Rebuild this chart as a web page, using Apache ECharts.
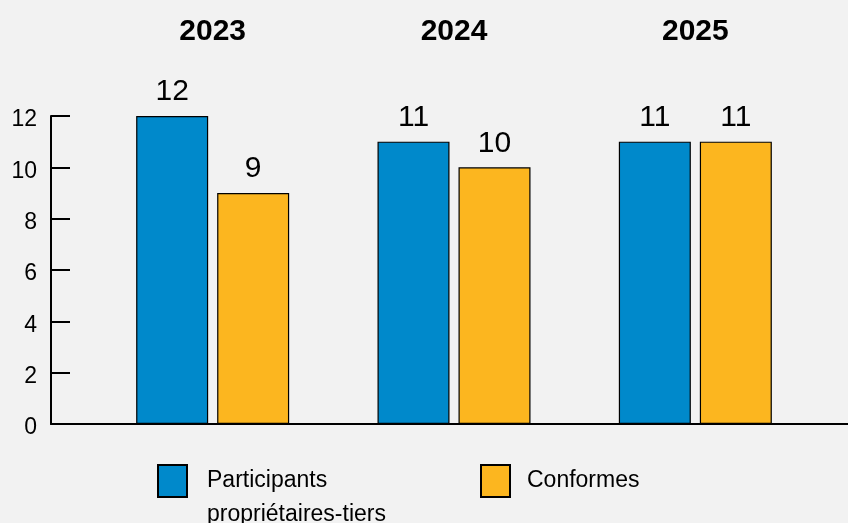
<!DOCTYPE html>
<html><head><meta charset="utf-8">
<script src="https://cdn.jsdelivr.net/npm/echarts@6/dist/echarts.min.js"></script>
<style>html,body{margin:0;padding:0;background:#F2F2F2;}#c{width:848px;height:523px;}</style>
</head><body><div id="c"></div>
<script>
const years = ['2023', '2024', '2025'];
const participants = [12, 11, 11];
const conformes = [9, 10, 11];
const yTicks = { min: 0, max: 12, interval: 2 };
const seriesNames = ['Participants propriétaires-tiers', 'Conformes'];

const FONT = '"Liberation Sans", Arial, sans-serif';
const chart = echarts.init(document.getElementById('c'), null, { renderer: 'canvas' });
const labelStyle = { show: true, position: 'top', distance: 9, color: '#000', fontSize: 30, fontFamily: FONT };
chart.setOption({
  backgroundColor: '#F2F2F2',
  animation: false,
  grid: [
    { left: 92, right: 32, top: 116, bottom: 99 },
    { left: 51, right: 0, top: 116, bottom: 99 }
  ],
  xAxis: [
    { type: 'category', gridIndex: 0, data: years, axisLine: { show: false }, axisTick: { show: false }, axisLabel: { show: false } },
    { type: 'category', gridIndex: 0, position: 'top', data: years, axisLine: { show: false }, axisTick: { show: false },
      axisLabel: { margin: 69, color: '#000', fontSize: 30, fontWeight: 'bold', fontFamily: FONT } },
    { type: 'category', gridIndex: 1, data: [''], axisLine: { show: true, lineStyle: { color: '#000', width: 2 } },
      axisTick: { show: false }, axisLabel: { show: false } }
  ],
  yAxis: [
    { type: 'value', gridIndex: 0, min: yTicks.min, max: yTicks.max, interval: yTicks.interval, offset: 41,
      axisLine: { show: true, lineStyle: { color: '#000', width: 2 } },
      axisTick: { show: true, inside: true, length: 19, lineStyle: { color: '#000', width: 2 } },
      axisLabel: { margin: 14, color: '#000', fontSize: 23, fontFamily: FONT, verticalAlign: 'top', lineHeight: 8 },
      splitLine: { show: false } },
    { type: 'value', gridIndex: 1, min: yTicks.min, max: yTicks.max, show: false, splitLine: { show: false } }
  ],
  legend: [
    { data: [seriesNames[0]], left: 157, top: 430, padding: 0, itemWidth: 29, itemHeight: 32, icon: 'rect',
      formatter: n => '\n' + n.replace(' ', '\n'),
      textStyle: { color: '#000', fontSize: 23, fontFamily: FONT, lineHeight: 34, padding: [0, 0, 0, 15] } },
    { data: [seriesNames[1]], left: 480, top: 464, padding: 0, itemWidth: 29, itemHeight: 32, icon: 'rect',
      textStyle: { color: '#000', fontSize: 23, fontFamily: FONT, lineHeight: 34, padding: [0, 0, 0, 12] } }
  ],
  series: [
    { name: seriesNames[0], type: 'bar', xAxisIndex: 0, yAxisIndex: 0, data: participants, barWidth: 72, barGap: '12.5%',
      itemStyle: { color: '#0089CB', borderColor: '#000', borderWidth: 1.2 }, label: labelStyle },
    { name: seriesNames[1], type: 'bar', xAxisIndex: 0, yAxisIndex: 0, data: conformes, barWidth: 72, barGap: '12.5%',
      itemStyle: { color: '#FCB61F', borderColor: '#000', borderWidth: 1.2 }, label: labelStyle }
  ]
});
</script></body></html>
